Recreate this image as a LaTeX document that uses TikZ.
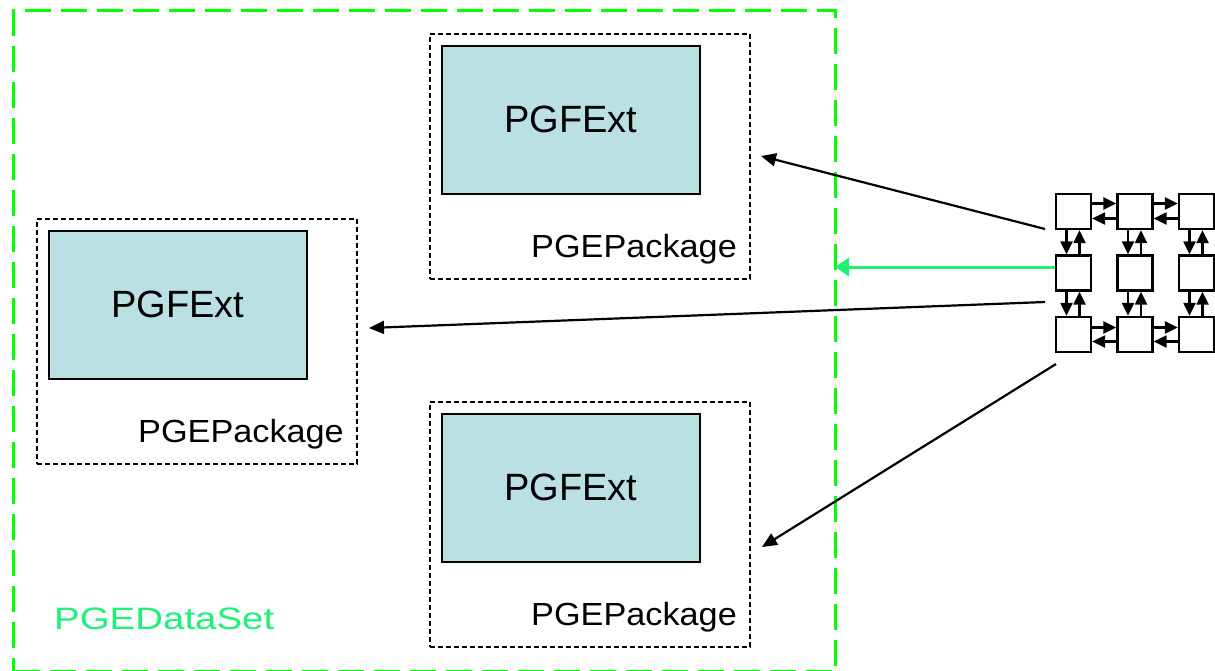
\documentclass[tikz,border=0pt]{standalone}
\usepackage{fontspec}
\setmainfont{Liberation Sans}
\usetikzlibrary{arrows.meta}
\definecolor{setgreen}{HTML}{00FF00}
\definecolor{labelgreen}{HTML}{1EF078}
\definecolor{extfill}{HTML}{BAE0E3}

\begin{document}
\begin{tikzpicture}[x=1pt,y=-1pt,
  dataset/.style={draw=setgreen,line width=3.2pt,dash pattern=on 26pt off 10pt,
    anchor=north west,inner sep=0pt},
  package/.style={draw=black,line width=1.5pt,dash pattern=on 5pt off 3pt,
    minimum width=320pt,minimum height=245pt,anchor=north west,inner sep=0pt},
  ext/.style={draw=black,line width=1.5pt,fill=extfill,
    minimum width=258pt,minimum height=148pt,anchor=north west,inner sep=0pt,
    font=\fontsize{38}{42}\selectfont},
  pkglabel/.style={anchor=base east,inner sep=0pt,font=\fontsize{32}{36}\selectfont},
  setlabel/.style={anchor=base west,inner sep=0pt,text=labelgreen,
    font=\fontsize{31}{36}\selectfont},
  cell/.style={draw=black,line width=2.4pt,fill=white,minimum size=35pt,inner sep=0pt},
  link/.style={line width=2.4pt,-{Triangle[length=13pt,width=12pt]}},
  feed/.style={line width=2.2pt,-{Triangle[length=15pt,width=13pt]}},
  setfeed/.style={draw=labelgreen,line width=3pt,-{Triangle[length=14pt,width=18pt]}},
]
\useasboundingbox (0,0) rectangle (1215,670);
\fill[white] (0,0) rectangle (1215,670);

% data set frame and its caption
\node[dataset,minimum width=822pt,minimum height=661pt] (set) at (12,9) {};
\node[setlabel] (setname) at (54,629) {\scalebox{1.24}[1]{PGEDataSet}};

% packages, each holding one extension
\node[package] (pkgA) at (429,33) {};
\node[ext] (extA) at (441,45) {PGFExt};
\node[pkglabel] (lblA) at (737,257) {\scalebox{1.07}[1]{PGEPackage}};

\node[package] (pkgB) at (36,218) {};
\node[ext] (extB) at (48,230) {PGFExt};
\node[pkglabel] (lblB) at (344,442) {\scalebox{1.07}[1]{PGEPackage}};

\node[package] (pkgC) at (429,401) {};
\node[ext] (extC) at (441,413) {PGFExt};
\node[pkglabel] (lblC) at (737,625) {\scalebox{1.07}[1]{PGEPackage}};

% 3x3 grid of cells
\foreach \r/\y in {1/211.5,2/273,3/334.5}{
  \foreach \c/\x in {1/1073.5,2/1135,3/1196.5}{
    \node[cell] (c\r\c) at (\x,\y) {};
  }
}

% links along the top and bottom rows
\foreach \a/\b in {1/2,2/3}{
  \draw[link] ([yshift=8pt]c1\a.east) -- ([yshift=8pt]c1\b.west);
  \draw[link] ([yshift=-7pt]c1\b.west) -- ([yshift=-7pt]c1\a.east);
  \draw[link] ([yshift=7pt]c3\a.east) -- ([yshift=7pt]c3\b.west);
  \draw[link] ([yshift=-7pt]c3\b.west) -- ([yshift=-7pt]c3\a.east);
}
% links down each column
\foreach \c in {1,2,3}{
  \draw[link] ([xshift=-7pt]c1\c.south) -- ([xshift=-7pt]c2\c.north);
  \draw[link] ([xshift=6pt]c2\c.north) -- ([xshift=6pt]c1\c.south);
  \draw[link] ([xshift=-7pt]c2\c.south) -- ([xshift=-7pt]c3\c.north);
  \draw[link] ([xshift=6pt]c3\c.north) -- ([xshift=6pt]c2\c.south);
}

% feeds from the grid into the packages and the data set
\coordinate (srcA) at (1045,229);
\coordinate (srcB) at (1045,302);
\coordinate (srcC) at (1056,364);
\coordinate (dstA) at (761,156);
\coordinate (dstB) at (369,328);
\coordinate (dstC) at (762,547);
\coordinate (dstSet) at (835,267);
\draw[feed] (srcA) -- (dstA);
\draw[feed] (srcB) -- (dstB);
\draw[feed] (srcC) -- (dstC);
\draw[setfeed] ([yshift=6pt]c21.west) -- (dstSet);
\end{tikzpicture}
\end{document}
